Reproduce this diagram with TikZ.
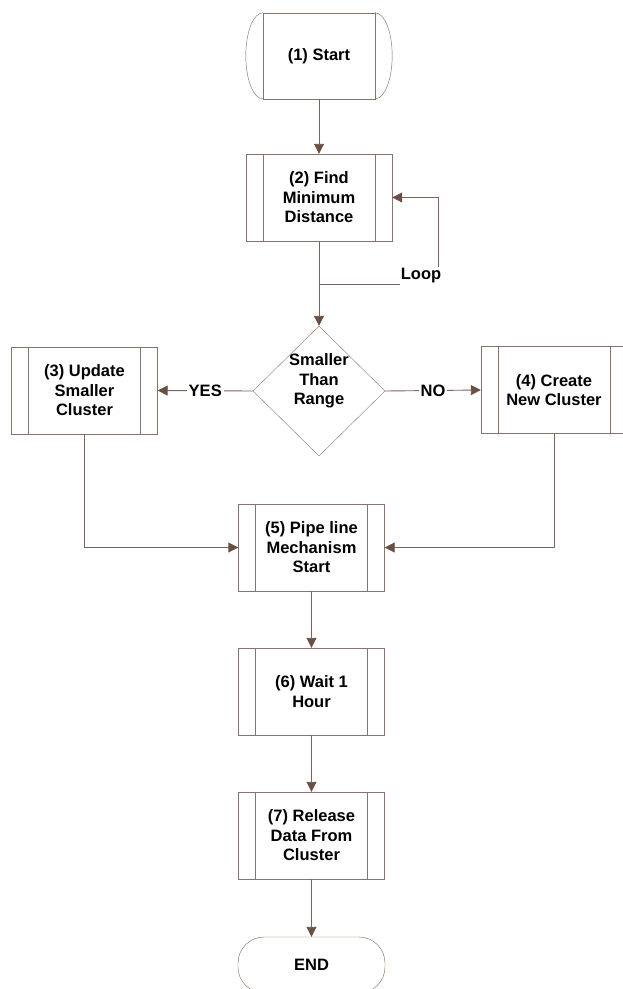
\documentclass[tikz,border=0pt]{standalone}
\usepackage{fontspec}
\setmainfont{Liberation Sans}
\usepackage{xcolor}
\usepackage{tikz}
\usetikzlibrary{calc, arrows.meta, shapes.geometric}

\definecolor{boxline}{RGB}{135,115,105}
\definecolor{conline}{RGB}{125,100,90}
\definecolor{tipfill}{RGB}{105,80,68}

\begin{document}
\begin{tikzpicture}[x=1pt, y=-1pt,
    every node/.style={font=\fontsize{16.5}{19.5}\selectfont\bfseries, align=center},
    proc/.style={draw=boxline, minimum width=146pt, minimum height=87pt, inner sep=0pt,
        path picture={
            \draw[boxline] ([xshift=17pt]path picture bounding box.north west) -- ([xshift=17pt]path picture bounding box.south west);
            \draw[boxline] ([xshift=-17pt]path picture bounding box.north east) -- ([xshift=-17pt]path picture bounding box.south east);
        }},
    con/.style={draw=conline, line width=0.9pt},
    arr/.style={con, -{Triangle[length=10pt, width=10pt, color=tipfill]}},
    tag/.style={fill=white, inner sep=2pt}]
    \useasboundingbox (0,0) rectangle (623,989);

    \node[draw=boxline, minimum width=112pt, minimum height=86pt] (start) at (319,56) {(1) Start};
    \draw[conline] (start.north west) arc[start angle=90, end angle=270, x radius=17pt, y radius=43pt];
    \draw[conline] (start.north east) arc[start angle=90, end angle=-90, x radius=17pt, y radius=43pt];

    \node[proc] (find) at (319,197.5) {(2) Find\\Minimum\\Distance};
    \node[draw=boxline, diamond, minimum width=132pt, minimum height=130pt, inner sep=0pt] (dec) at (319,391) {};
    \node (dectxt) at (319,381) {Smaller\\Than\\Range};
    \node[proc] (upd) at (84.5,390.5) {(3) Update\\Smaller\\Cluster};
    \node[proc] (new) at (554,390) {(4) Create\\New Cluster};
    \node[proc] (pipe) at (311.5,547.5) {(5) Pipe line\\Mechanism\\Start};
    \node[proc] (wait) at (311.5,691.5) {(6) Wait 1\\Hour};
    \node[proc] (rel) at (311.5,835.5) {(7) Release\\Data From\\Cluster};
    \node[draw=conline, rounded corners=26pt, minimum width=147pt, minimum height=56pt] (fin) at (311.5,965) {END};

    \coordinate (split) at (319,284);
    \node[inner sep=1pt] (loop) at (421,276) {Loop};

    \draw[arr] (start.south) -- (find.north);
    \draw[con] (find.south) -- (split);
    \draw[arr] (split) -- (dec.north);
    \draw[con] (split) -- (split -| loop.west);
    \draw[arr] ([xshift=-4pt]loop.north east) |- (find.east);
    \draw[arr] (dec.west) -- node[tag] {YES} (upd.east);
    \draw[arr] (dec.east) -- node[tag] {NO} (new.west);
    \draw[arr] (upd.south) |- (pipe.west);
    \draw[arr] (new.south) |- (pipe.east);
    \draw[arr] (pipe.south) -- (wait.north);
    \draw[arr] (wait.south) -- (rel.north);
    \draw[arr] (rel.south) -- (fin.north);
\end{tikzpicture}
\end{document}
